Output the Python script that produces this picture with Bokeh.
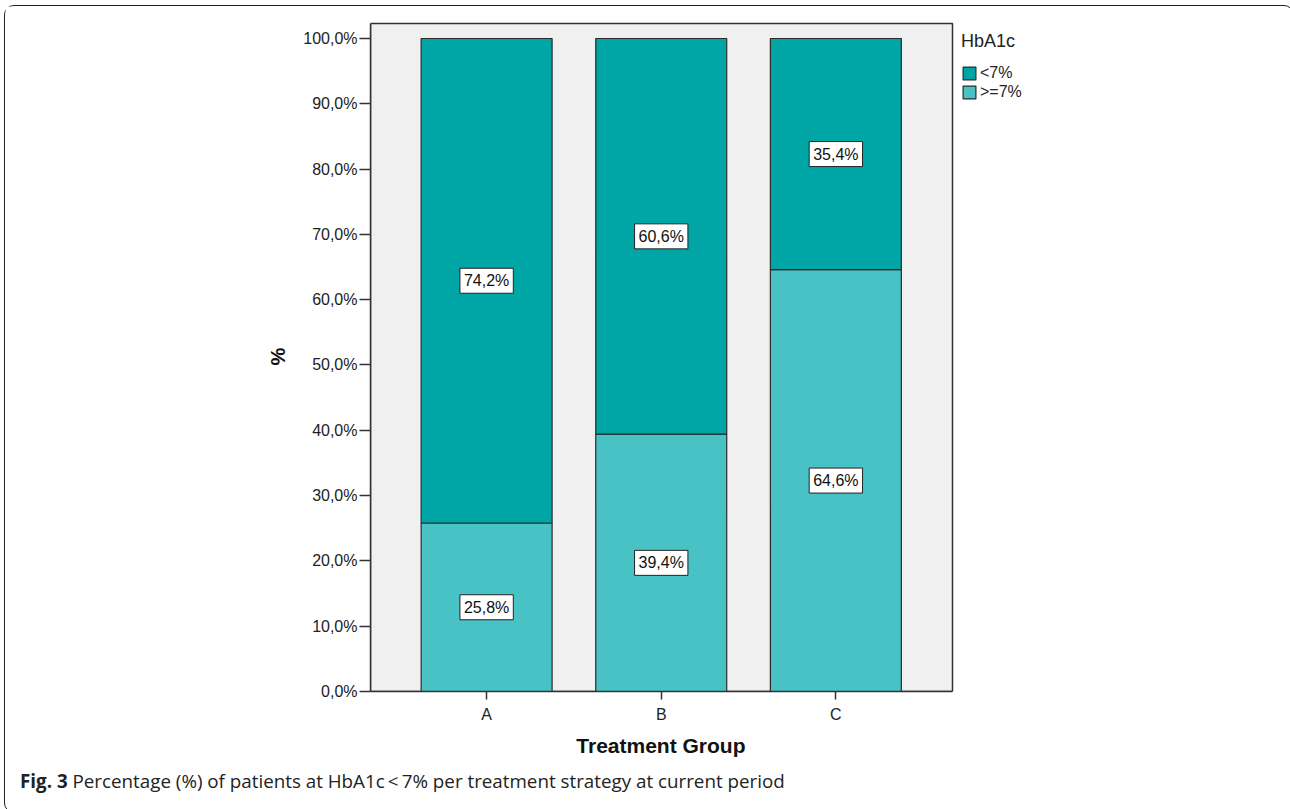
from bokeh.plotting import figure
from bokeh.models import (ColumnDataSource, Range1d, FixedTicker, Legend, LegendItem,
                          Label, Div, BoxAnnotation, Title)
from bokeh.layouts import column
from bokeh.embed import file_html
from bokeh.resources import INLINE

# ---- data ----
groups = ["A", "B", "C"]
series_names = ["<7%", ">=7%"]
pct_lt7 = [74.2, 60.6, 35.4]
pct_ge7 = [25.8, 39.4, 64.6]
y_ticks = [0, 10, 20, 30, 40, 50, 60, 70, 80, 90, 100]
legend_title = "HbA1c"
x_title = "Treatment Group"
y_title = "%"

DARK = "#00A6A6"
LIGHT = "#49C2C5"
FONT = "Liberation Sans"
EDGE = "#333333"


def fmt(v):
    return f"{v:.1f}".replace(".", ",") + "%"


xs = list(range(len(groups)))
src = ColumnDataSource(dict(
    x=xs,
    top_ge7=pct_ge7,
    top_lt7=[a + b for a, b in zip(pct_ge7, pct_lt7)],
))

# layout geometry (pixels)
W, H = 1278, 765
BL, BR, BT, BB = 365, 20, 15, 80
PANEL_W = 582          # width of the grey plot panel
FW = W - BL - BR       # full frame width
FH = H - BT - BB
x_start = -0.665
x_panel_end = len(groups) - 1 + 0.668
x_end = x_start + (x_panel_end - x_start) * FW / PANEL_W
y_panel_top = 102.3
y_end = 102.6

p = figure(width=W, height=H, output_backend="svg", toolbar_location=None,
           x_range=Range1d(x_start, x_end), y_range=Range1d(0, y_end),
           min_border_left=BL, min_border_right=BR,
           min_border_top=BT, min_border_bottom=BB)
p.background_fill_color = "white"
p.border_fill_color = "white"
p.outline_line_color = None
p.grid.visible = False

panel = BoxAnnotation(left=x_start, right=x_panel_end, bottom=0, top=y_panel_top,
                      fill_color="#F0F0F0", fill_alpha=1,
                      line_color=EDGE, line_width=1.5, line_alpha=1,
                      level="underlay")
p.add_layout(panel)

r_ge7 = p.vbar(x="x", bottom=0, top="top_ge7", width=0.75, source=src,
               fill_color=LIGHT, line_color="#2a2a2a", line_width=1.2)
r_lt7 = p.vbar(x="x", bottom="top_ge7", top="top_lt7", width=0.75, source=src,
               fill_color=DARK, line_color="#2a2a2a", line_width=1.2)

# value labels centred in segments
for i in xs:
    for yv, val in ((pct_ge7[i] / 2, pct_ge7[i]),
                    (pct_ge7[i] + pct_lt7[i] / 2, pct_lt7[i])):
        p.add_layout(Label(x=i, y=yv, text=fmt(val),
                           text_align="center", text_baseline="middle",
                           text_font=FONT, text_font_size="16px", text_color="#111111",
                           background_fill_color="white", border_line_color="#222222",
                           border_line_width=1, padding=4))

# axes
p.xaxis.ticker = FixedTicker(ticks=xs)
p.xaxis.major_label_overrides = {i: g for i, g in enumerate(groups)}
p.xaxis.bounds = (x_start, x_panel_end)
p.yaxis.ticker = FixedTicker(ticks=y_ticks)
p.yaxis.major_label_overrides = {t: fmt(t) for t in y_ticks}
p.yaxis.bounds = (0, y_panel_top)
for ax in (p.xaxis[0], p.yaxis[0]):
    ax.axis_line_color = EDGE
    ax.axis_line_width = 1.5
    ax.major_tick_line_color = EDGE
    ax.major_tick_line_width = 1.5
    ax.minor_tick_line_color = None
    ax.major_tick_in = 0
    ax.major_label_text_font = FONT
    ax.major_label_text_font_size = "16px"
    ax.major_label_text_color = "#222222"
    ax.axis_label_text_font = FONT
    ax.axis_label_text_font_style = "bold"
    ax.axis_label_text_color = "#111111"
p.yaxis.major_tick_out = 11
p.yaxis.major_label_standoff = 2
p.xaxis.major_tick_out = 8
p.xaxis.major_label_standoff = 6
p.yaxis.axis_label = y_title
p.yaxis.axis_label_text_font_size = "20px"
p.yaxis.axis_label_standoff = 11

# x-axis title centred under the grey panel (not the whole frame)
XT_SIZE = 21
xt_width = 8.112 * XT_SIZE  # approx. width of the bold text
x_title_obj = Title(text=x_title, align="left",
                    offset=PANEL_W / 2 - xt_width / 2,
                    text_font=FONT, text_font_size=f"{XT_SIZE}px",
                    text_font_style="bold", text_color="#111111", standoff=13)
p.add_layout(x_title_obj, "below")

LEG_H = 70
legend = Legend(items=[LegendItem(label=series_names[0], renderers=[r_lt7]),
                       LegendItem(label=series_names[1], renderers=[r_ge7])],
                title=legend_title, location=(PANEL_W + 9, FH - 10 - LEG_H),
                title_text_font=FONT, title_text_font_size="18px",
                title_text_font_style="normal", title_text_color="#222222",
                title_standoff=12,
                label_text_font=FONT, label_text_font_size="16px",
                label_text_color="#222222",
                glyph_width=16, glyph_height=16, spacing=1, label_standoff=3,
                label_height=16, padding=0, margin=0,
                border_line_color=None, background_fill_alpha=0)
p.add_layout(legend)

cap = Div(text='<b>Fig. 3</b> Percentage (%) of patients at HbA1c\u2009<\u20097% per treatment strategy at current period',
          width=W, height=31,
          styles={"font-family": "'Open Sans'", "font-size": "18.8px", "color": "#222",
                  "line-height": "10px", "padding-left": "10px"})

layout = column(p, cap, styles={"border": "1.5px solid #222", "border-radius": "10px",
                                "margin": "5px 0 0 4px"})

open("out.html", "w").write(file_html(layout, INLINE))
